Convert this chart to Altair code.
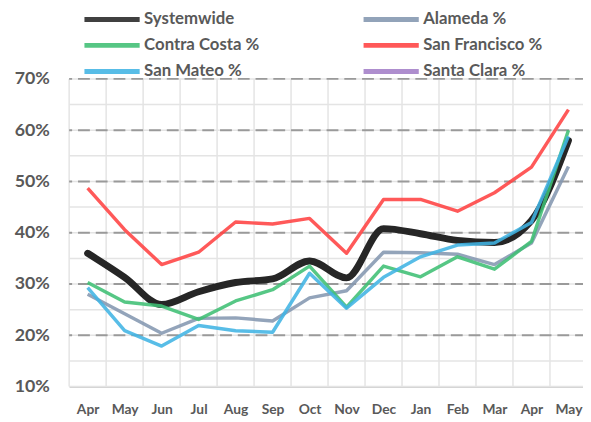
import altair as alt
import numpy as np
import pandas as pd

months = ["Apr", "May", "Jun", "Jul", "Aug", "Sep", "Oct", "Nov", "Dec", "Jan", "Feb", "Mar", "Apr", "May"]
series_names = ["Systemwide", "Alameda %", "Contra Costa %", "San Francisco %", "San Mateo %", "Santa Clara %"]
series_colors = ["#262626", "#8497b0", "#3fbf74", "#ff4242", "#41b4e4", "#a37fc8"]

systemwide = [36.0, 31.3, 26.0, 28.5, 30.3, 31.0, 34.5, 31.2, 40.8, 39.8, 38.5, 38.1, 42.4, 58.0]
alameda = [28.0, 24.2, 20.4, 23.3, 23.4, 22.8, 27.3, 28.7, 36.2, 36.1, 35.8, 33.8, 38.0, 52.9]
contra_costa = [30.3, 26.5, 25.7, 23.1, 26.7, 28.9, 33.5, 25.5, 33.5, 31.4, 35.3, 32.9, 38.3, 60.0]
san_francisco = [48.7, 40.6, 33.8, 36.2, 42.1, 41.7, 42.8, 36.0, 46.5, 46.5, 44.2, 47.8, 52.8, 64.0]
san_mateo = [29.3, 20.9, 17.9, 21.9, 20.9, 20.6, 32.1, 25.3, 31.3, 35.3, 37.6, 38.0, 42.0, 58.8]
santa_clara = [None] * 14  # listed in legend, no visible line

all_series = [systemwide, alameda, contra_costa, san_francisco, san_mateo, santa_clara]
rows = []
for name, vals in zip(series_names, all_series):
    for i, v in enumerate(vals):
        rows.append({"idx": i, "series": name, "value": v})
df = pd.DataFrame(rows)

n = len(months)
FONT = "Lato"
TXT = "#595959"

xscale = alt.Scale(domain=[-0.5, n - 0.5], nice=False, zero=False)
yscale = alt.Scale(domain=[10, 70], nice=False, zero=False)

xaxis = alt.Axis(
    title=None, values=list(range(n)), grid=False, ticks=False,
    domain=True, domainColor="#d0d0d0", domainWidth=2,
    labelExpr="%s[datum.value]" % str(months),
    labelFont=FONT, labelFontWeight="bold", labelFontSize=14,
    labelColor=TXT, labelPadding=16,
)
yaxis = alt.Axis(
    title=None, values=list(range(10, 71, 10)), grid=False, ticks=False,
    domain=False, labelExpr="datum.value + '%'",
    labelFont=FONT, labelFontWeight="bold", labelFontSize=18,
    labelColor=TXT, labelPadding=20,
)

color = alt.Color(
    "series:N",
    scale=alt.Scale(domain=series_names, range=series_colors),
    legend=alt.Legend(
        title=None, orient="none", legendX=35, legendY=-69, columns=2,
        direction="horizontal", columnPadding=95, rowPadding=5.5,
        symbolType="M-9.33,0H9.33", symbolSize=36, symbolStrokeWidth=5,
        labelFont=FONT, labelFontWeight="bold",
        labelFontSize=17, labelColor=TXT, labelOffset=24, labelLimit=300,
    ),
)

hgrid = pd.DataFrame({"v": np.arange(10, 71, 5)})
vgrid = pd.DataFrame({"b": np.arange(n + 1) - 0.5})
dgrid = pd.DataFrame({"v": np.arange(20, 71, 10)})

light_h = alt.Chart(hgrid).mark_rule(color="#e4e4e4", strokeWidth=1.5).encode(
    y=alt.Y("v:Q", scale=yscale, axis=yaxis)
)
light_v = alt.Chart(vgrid).mark_rule(color="#e4e4e4", strokeWidth=1.5).encode(
    x=alt.X("b:Q", scale=xscale, axis=xaxis)
)
dashed = alt.Chart(dgrid).mark_rule(color="#9a9a9a", strokeWidth=2, strokeDash=[12, 6]).encode(
    y=alt.Y("v:Q", scale=yscale, axis=yaxis)
)

sys_line = alt.Chart(df).transform_filter(alt.datum.series == "Systemwide").mark_line(
    strokeWidth=7, interpolate="monotone", strokeCap="round", strokeJoin="round"
).encode(
    x=alt.X("idx:Q", scale=xscale, axis=xaxis),
    y=alt.Y("value:Q", scale=yscale, axis=yaxis),
    color=color,
)

others = alt.Chart(df).transform_filter(alt.datum.series != "Systemwide").mark_line(
    strokeWidth=3.5, opacity=0.88, strokeJoin="round"
).encode(
    x=alt.X("idx:Q", scale=xscale, axis=xaxis),
    y=alt.Y("value:Q", scale=yscale, axis=yaxis),
    color=color,
)

chart = alt.layer(light_h, light_v, dashed, sys_line, others).properties(
    width=525, height=312,
    autosize=alt.AutoSizeParams(type="none"),
    padding={"left": 62, "top": 69, "right": -4, "bottom": 32},
).configure_view(stroke=None)

chart.save("out.html", embed_options={"renderer": "svg", "actions": False})
